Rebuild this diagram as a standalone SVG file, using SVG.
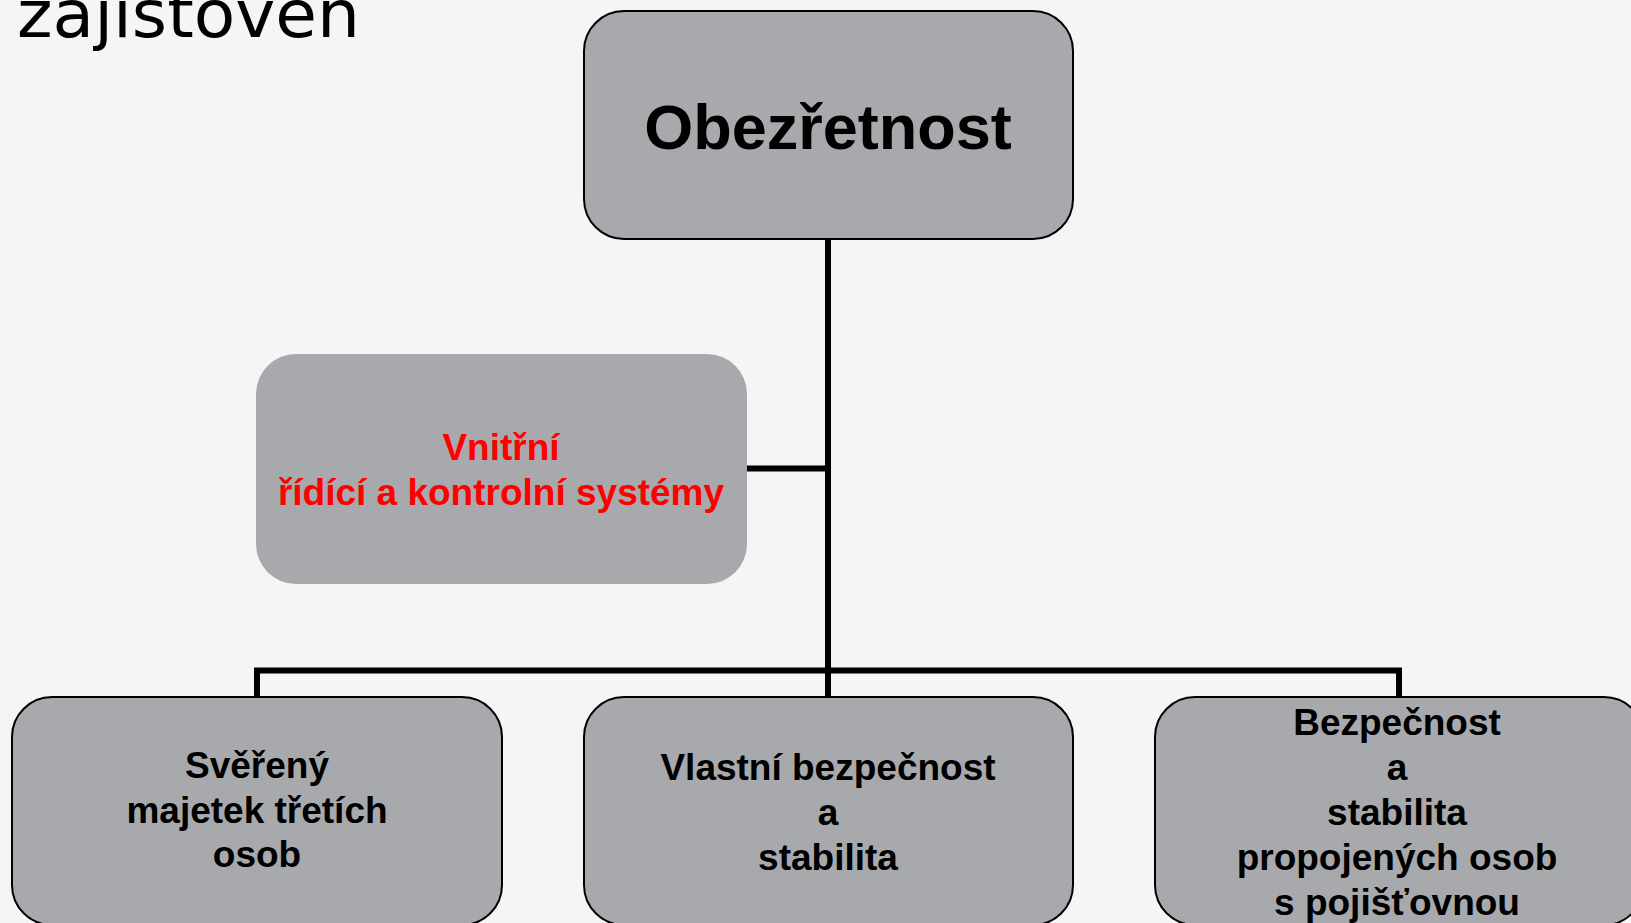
<svg xmlns="http://www.w3.org/2000/svg" width="1631" height="923" viewBox="0 0 1631 923">
<style>
.box{fill:#a8a9ad;stroke:#000;stroke-width:2}
.nobox{fill:#a8a9ad;stroke:none}
.lbl{font-family:"Liberation Sans",Arial,sans-serif;font-weight:bold;font-size:37px;fill:#000;text-anchor:middle}
.red{fill:#ff0000}
.conn{fill:none;stroke:#000;stroke-width:6}
</style>
<rect width="1631" height="923" fill="#f5f5f5"/>
<text x="17" y="37" font-family="'DejaVu Sans',Verdana,sans-serif" font-size="66" fill="#000" textLength="343" lengthAdjust="spacingAndGlyphs">zajisťoven</text>
<g id="connectors">
<path class="conn" d="M828 240 V697"/>
<path class="conn" d="M747 468.5 H828"/>
<path class="conn" d="M257 697 V670.5 H1399 V697"/>
</g>
<g id="node-obezretnost">
<rect class="box" x="584" y="11" width="489" height="228" rx="40"/>
<text class="lbl" x="828" y="149" style="font-size:63px">Obezřetnost</text>
</g>
<g id="node-vnitrni">
<rect class="nobox" x="256" y="354" width="491" height="230" rx="40"/>
<text class="lbl red" x="501" y="460">Vnitřní</text>
<text class="lbl red" x="501" y="505">řídící a kontrolní systémy</text>
</g>
<g id="node-svereny">
<rect class="box" x="12" y="697" width="490" height="228" rx="40"/>
<text class="lbl" x="257" y="778">Svěřený</text>
<text class="lbl" x="257" y="823">majetek třetích</text>
<text class="lbl" x="257" y="867">osob</text>
</g>
<g id="node-vlastni">
<rect class="box" x="584" y="697" width="489" height="228" rx="40"/>
<text class="lbl" x="828" y="780">Vlastní bezpečnost</text>
<text class="lbl" x="828" y="825">a</text>
<text class="lbl" x="828" y="870">stabilita</text>
</g>
<g id="node-bezpecnost">
<rect class="box" x="1155" y="697" width="489" height="228" rx="40"/>
<text class="lbl" x="1397" y="735">Bezpečnost</text>
<text class="lbl" x="1397" y="780">a</text>
<text class="lbl" x="1397" y="825">stabilita</text>
<text class="lbl" x="1397" y="870">propojených osob</text>
<text class="lbl" x="1397" y="915">s pojišťovnou</text>
</g>
</svg>
